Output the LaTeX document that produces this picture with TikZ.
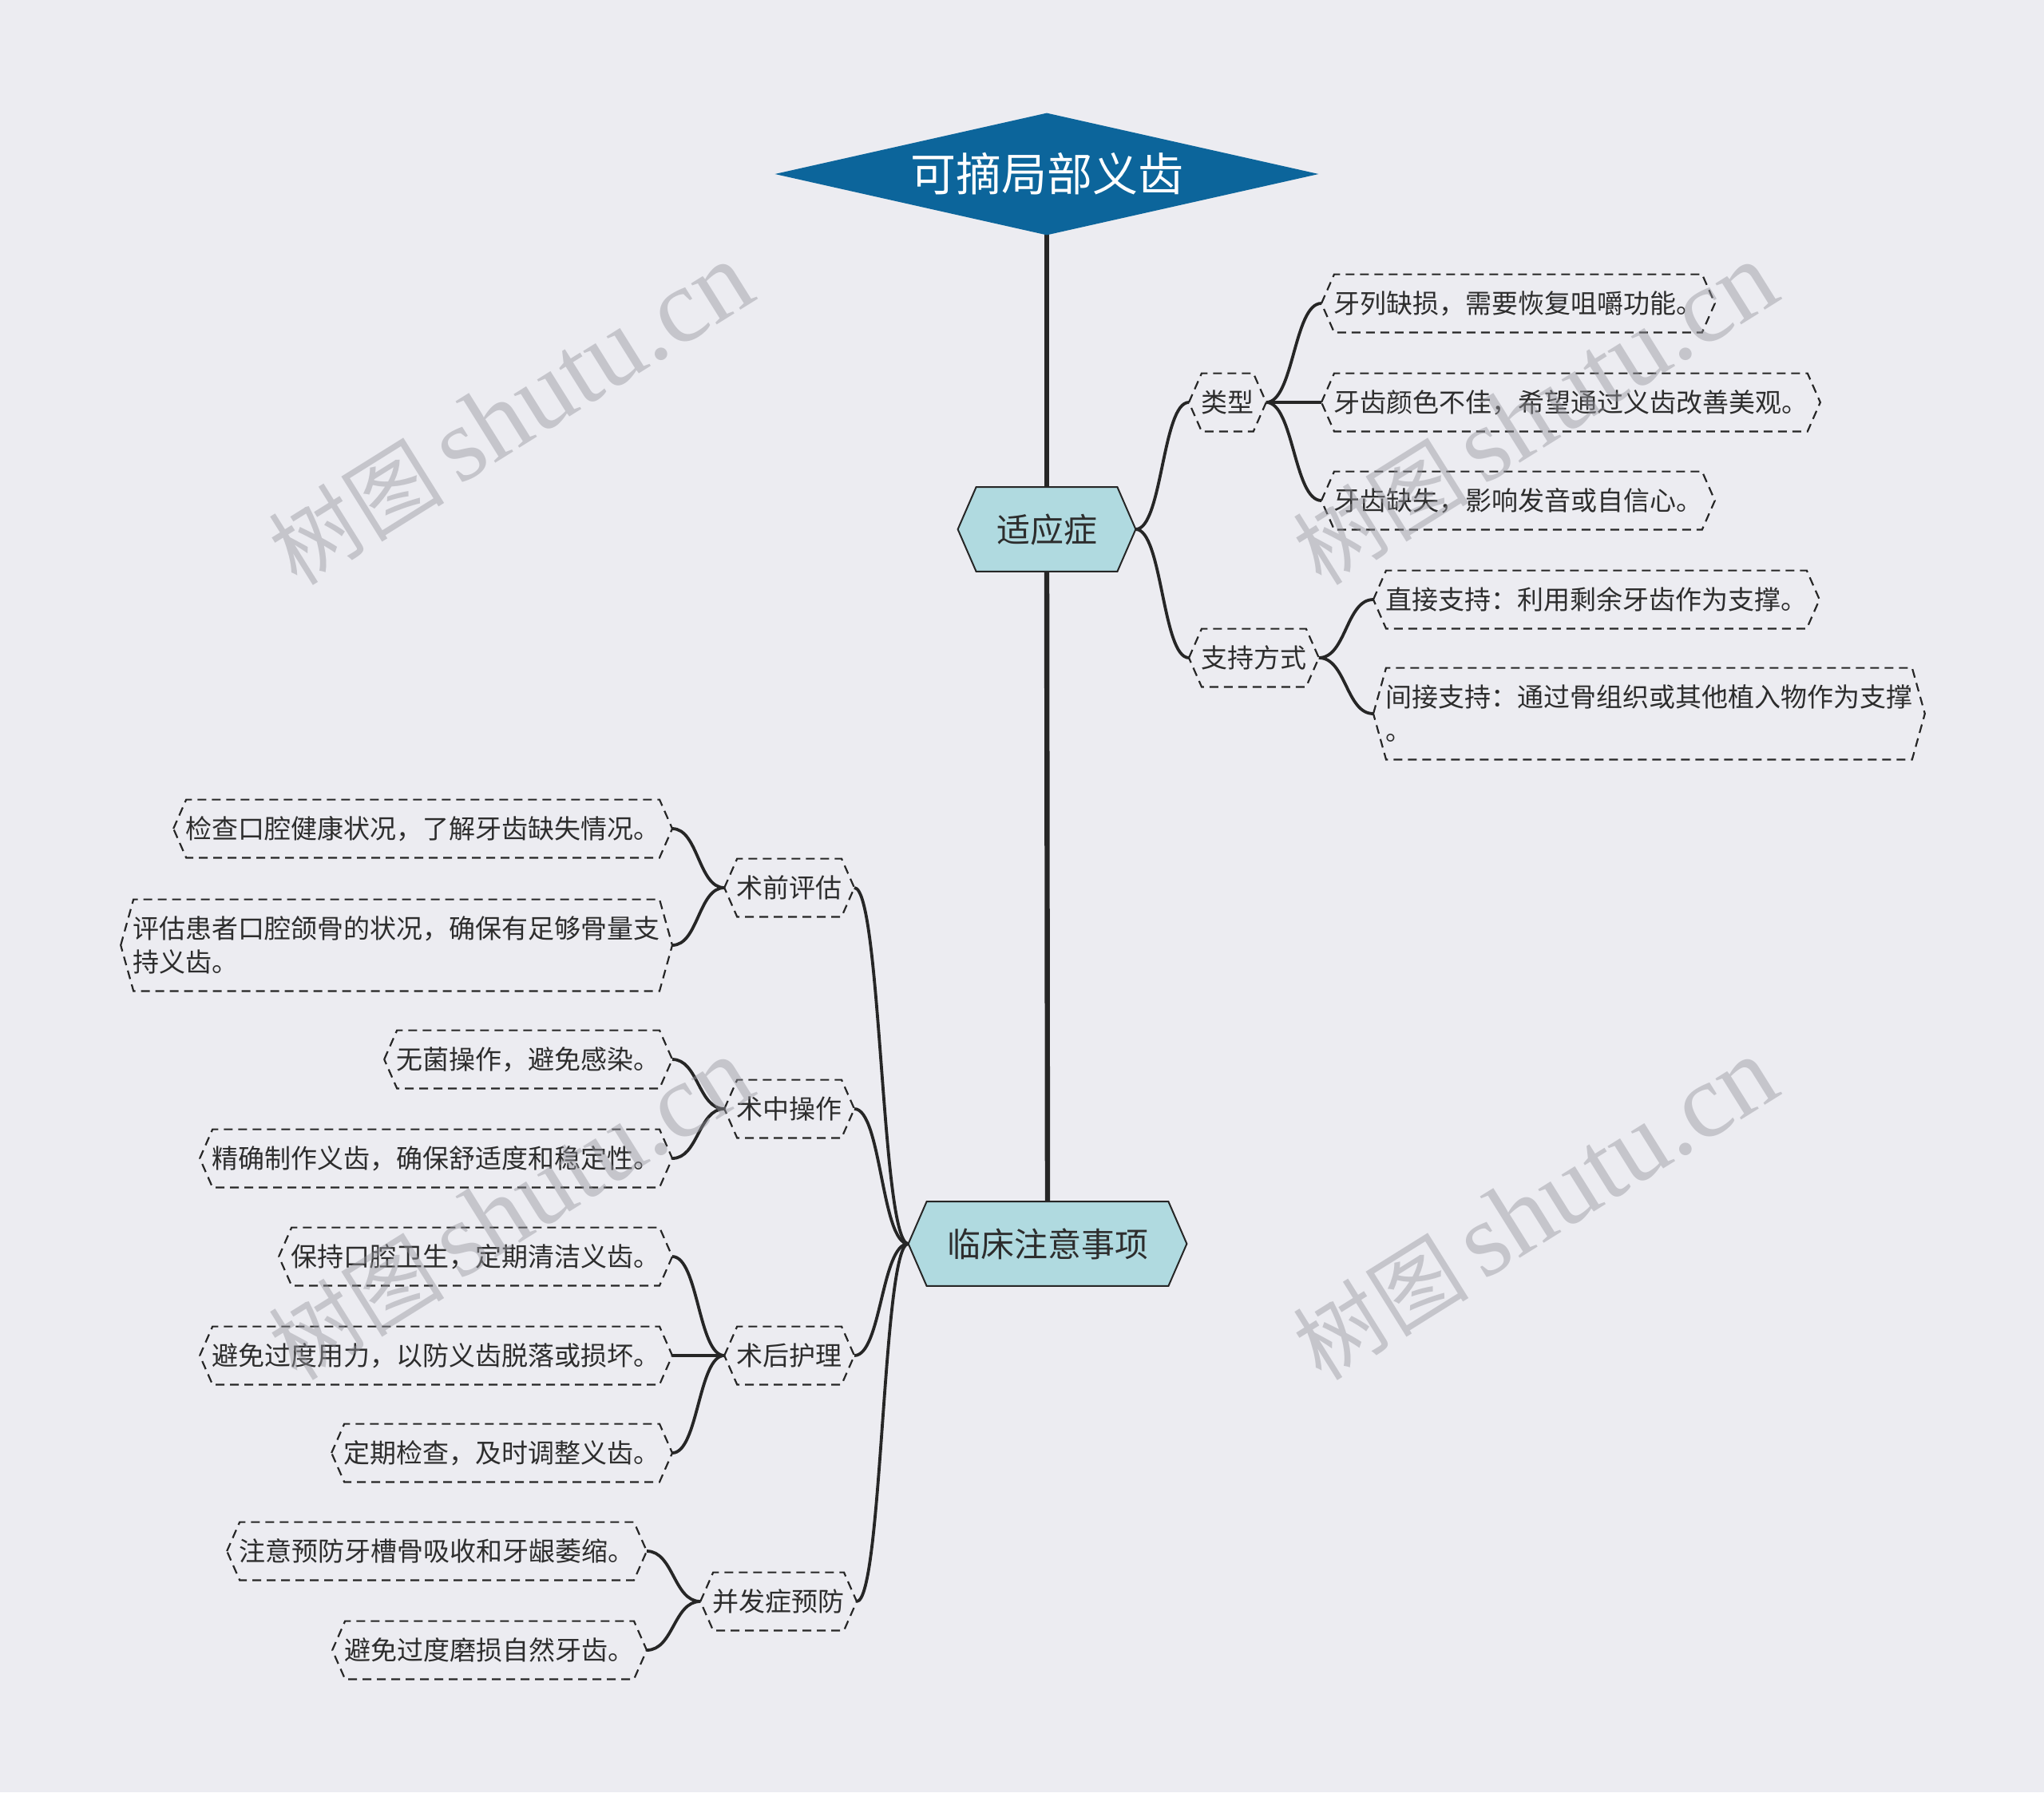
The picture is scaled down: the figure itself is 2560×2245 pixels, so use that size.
\documentclass[tikz,border=0pt]{standalone}
\usepackage{fontspec}
\setmainfont{Noto Sans CJK SC}
\newfontfamily\wmlatin{Liberation Serif}
\usetikzlibrary{calc}
\definecolor{bgc}{RGB}{236,236,241}
\definecolor{rootc}{RGB}{12,101,155}
\definecolor{lvc}{RGB}{176,218,224}
\definecolor{linec}{RGB}{38,38,38}
\definecolor{txt}{RGB}{45,45,45}
\definecolor{wmc}{RGB}{150,150,158}
\pgfdeclarelayer{bg}
\pgfsetlayers{bg,main}
\newcommand\hexo[3]{%
  \path[#3] (#1.west) -- ([xshift=#2]#1.north west) -- ([xshift=-#2]#1.north east) -- (#1.east) -- ([xshift=-#2]#1.south east) -- ([xshift=#2]#1.south west) -- cycle;}
\newcommand\link[3]{%
  \draw[#3] let \p1=(#1), \p2=(#2), \n1={(\x2-\x1)/2}, \n2={(\x1-\x2)/2} in (\p1) .. controls +(\n1,0) and +(\n2,0) .. (\p2);}
\tikzset{
  rootn/.style={rectangle, inner sep=0pt, minimum width=340pt, minimum height=76pt, text=white,
    font=\fontsize{28.5}{32}\selectfont, text height=25pt, text depth=3.5pt},
  lvone/.style={rectangle, inner xsep=24pt, inner ysep=0pt, minimum height=52.5pt, text=txt,
    font=\fontsize{21}{25}\selectfont, text height=18.5pt, text depth=2.5pt},
  mid/.style={rectangle, inner xsep=7.5pt, inner ysep=0pt, minimum height=36pt, text=txt,
    font=\fontsize{16.5}{21}\selectfont, text height=14.5pt, text depth=2pt},
  leaf/.style={mid},
  leafm/.style={rectangle, inner xsep=7.5pt, inner ysep=0pt, minimum height=57pt, text=txt,
    font=\fontsize{16.5}{21}\selectfont, align=left},
  trunk/.style={draw=linec, line width=3.2pt},
  lk/.style={draw=linec, line width=1.9pt},
  dashbox/.style={draw=linec, line width=1.1pt, dash pattern=on 5.5pt off 3.5pt},
  lvbox/.style={fill=lvc, draw=linec, line width=1pt},
  wm/.style={rotate=32, text=wmc, text opacity=0.45, inner sep=0pt}
}
\begin{document}
\begin{tikzpicture}[x=0.5pt,y=-0.5pt]
\useasboundingbox (0,0) rectangle (2560,2245);
% nodes
\node[rootn] (root) at (1311,218) {可摘局部义齿};
\node[lvone] (A) at (1311,663) {适应症};
\node[lvone] (B) at (1312,1558) {临床注意事项};
\node[mid, anchor=west] (A1) at (1489,504) {类型};
\node[mid, anchor=west] (A2) at (1489,824) {支持方式};
\node[leaf, anchor=west] (a11) at (1655,380) {牙列缺损，需要恢复咀嚼功能。};
\node[leaf, anchor=west] (a12) at (1655,504) {牙齿颜色不佳，希望通过义齿改善美观。};
\node[leaf, anchor=west] (a13) at (1655,627) {牙齿缺失，影响发音或自信心。};
\node[leaf, anchor=west] (a21) at (1720,751) {直接支持：利用剩余牙齿作为支撑。};
\node[leafm, anchor=west] (a22) at (1720,894) {间接支持：通过骨组织或其他植入物作为支撑\\。};
\node[mid, anchor=east] (B1) at (1070,1112) {术前评估};
\node[mid, anchor=east] (B2) at (1070,1389) {术中操作};
\node[mid, anchor=east] (B3) at (1070,1698) {术后护理};
\node[mid, anchor=east] (B4) at (1073,2006) {并发症预防};
\node[leaf, anchor=east] (b11) at (842,1038) {检查口腔健康状况，了解牙齿缺失情况。};
\node[leafm, anchor=east] (b12) at (842,1184) {评估患者口腔颌骨的状况，确保有足够骨量支\\持义齿。};
\node[leaf, anchor=east] (b21) at (842,1327) {无菌操作，避免感染。};
\node[leaf, anchor=east] (b22) at (842,1451) {精确制作义齿，确保舒适度和稳定性。};
\node[leaf, anchor=east] (b31) at (842,1574) {保持口腔卫生，定期清洁义齿。};
\node[leaf, anchor=east] (b32) at (842,1698) {避免过度用力，以防义齿脱落或损坏。};
\node[leaf, anchor=east] (b33) at (842,1820) {定期检查，及时调整义齿。};
\node[leaf, anchor=east] (b41) at (810,1943) {注意预防牙槽骨吸收和牙龈萎缩。};
\node[leaf, anchor=east] (b42) at (810,2067) {避免过度磨损自然牙齿。};
\begin{pgfonlayer}{bg}
  \fill[bgc] (0,0) rectangle (2560,2245);
  \draw[trunk] (root.south) -- (A.north);
  \draw[trunk] (A.south) -- (B.north);
  \link{A.east}{A1.west}{lk}
  \link{A.east}{A2.west}{lk}
  \link{A1.east}{a11.west}{lk}
  \link{A1.east}{a12.west}{lk}
  \link{A1.east}{a13.west}{lk}
  \link{A2.east}{a21.west}{lk}
  \link{A2.east}{a22.west}{lk}
  \link{B.west}{B1.east}{lk}
  \link{B.west}{B2.east}{lk}
  \link{B.west}{B3.east}{lk}
  \link{B.west}{B4.east}{lk}
  \link{B1.west}{b11.east}{lk}
  \link{B1.west}{b12.east}{lk}
  \link{B2.west}{b21.east}{lk}
  \link{B2.west}{b22.east}{lk}
  \link{B3.west}{b31.east}{lk}
  \link{B3.west}{b32.east}{lk}
  \link{B3.west}{b33.east}{lk}
  \link{B4.west}{b41.east}{lk}
  \link{B4.west}{b42.east}{lk}
  \fill[rootc] (root.west) -- (root.north) -- (root.east) -- (root.south) -- cycle;
  \hexo{A}{11.5pt}{lvbox}
  \hexo{B}{11.5pt}{lvbox}
  \foreach \n in {A1,A2,a11,a12,a13,a21,a22,B1,B2,B3,B4,b11,b12,b21,b22,b31,b32,b33,b41,b42}{
    \hexo{\n}{8pt}{dashbox}
  }
\end{pgfonlayer}
% watermarks
\foreach \wx/\wy [count=\i] in {640/519, 1923/519, 640/1515, 1923/1515}{
  \node[wm] (wm\i) at (\wx,\wy) {\fontsize{55}{60}\selectfont 树图\,{\wmlatin\fontsize{66}{70}\selectfont shutu.cn}};
}
\end{tikzpicture}
\end{document}
